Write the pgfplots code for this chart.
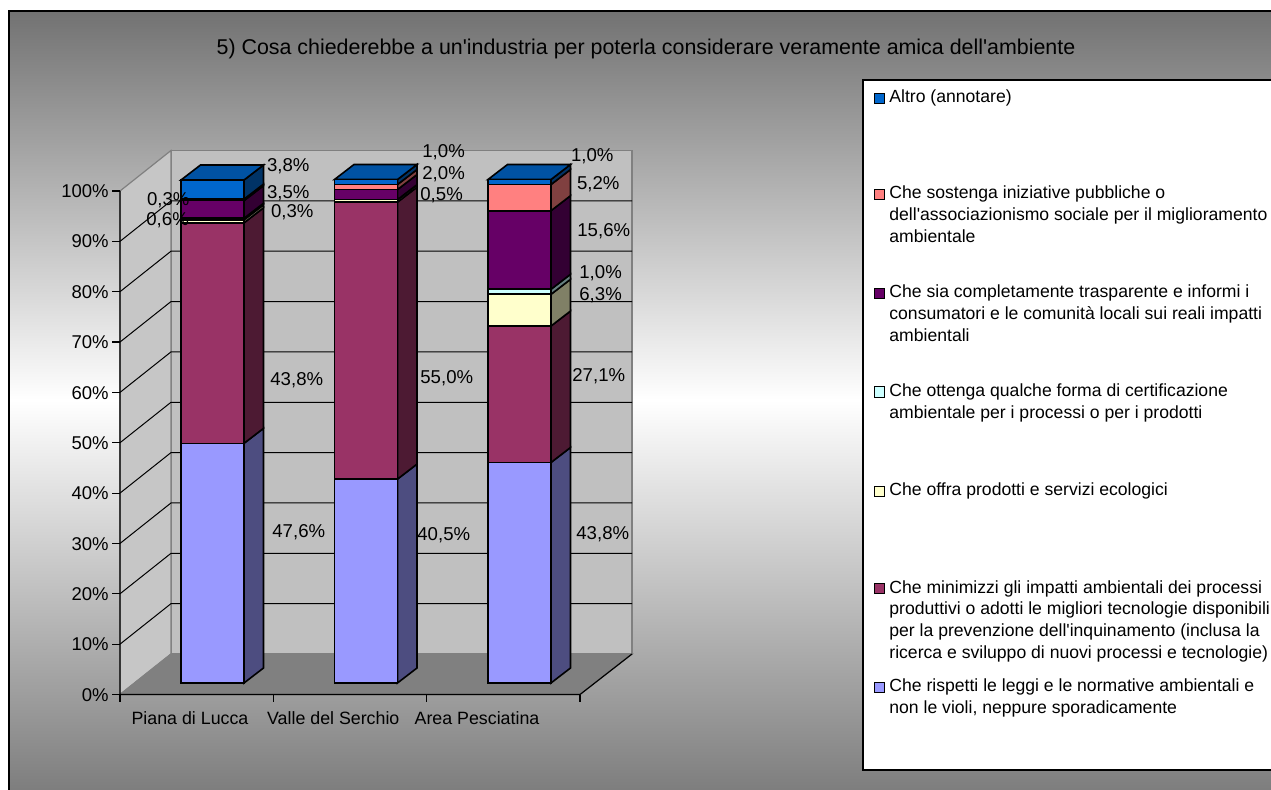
\documentclass[border=0pt]{standalone}
\usepackage{pgfplots}
\pgfplotsset{compat=1.18}
\usepackage{fontspec}
\setmainfont{Liberation Sans}

\definecolor{cAltro}{HTML}{0066CC}
\definecolor{cAltroS}{HTML}{003366}
\definecolor{cAltroT}{HTML}{0052A3}
\definecolor{cSost}{HTML}{FF8080}
\definecolor{cSostS}{HTML}{804040}
\definecolor{cTrasp}{HTML}{660066}
\definecolor{cTraspS}{HTML}{330033}
\definecolor{cCert}{HTML}{CCFFFF}
\definecolor{cCertS}{HTML}{668080}
\definecolor{cOffra}{HTML}{FFFFCC}
\definecolor{cOffraS}{HTML}{808066}
\definecolor{cMin}{HTML}{993366}
\definecolor{cMinS}{HTML}{4D1A33}
\definecolor{cRisp}{HTML}{9999FF}
\definecolor{cRispS}{HTML}{4D4D80}
\definecolor{gTop}{HTML}{727272}
\definecolor{gBot}{HTML}{7E7E7E}
\definecolor{wallBack}{HTML}{C0C0C0}
\definecolor{wallLeft}{HTML}{C6C6C6}
\definecolor{floorC}{HTML}{808080}
\definecolor{edgeC}{HTML}{808080}

\newcommand\ap{\textquotesingle}
\newcommand\lblfont{\fontsize{9.3pt}{11pt}\selectfont}
\newcommand\tickfont{\fontsize{9.25pt}{11pt}\selectfont}
\newcommand\catfont{\fontsize{8.9pt}{11pt}\selectfont}
\newcommand\legfont{\fontsize{8.8pt}{11pt}\selectfont}
\newcommand\titfont{\fontsize{10.7pt}{12pt}\selectfont}

\tikzset{px/.style={x=0.5pt,y=-0.5pt,yshift=394.5pt}}
\pgfplotsset{overlay axis/.style={at={(0,0)},anchor=south west,scale only axis,
  width=635.5pt,height=394.5pt,xmin=0,xmax=1271,ymin=-21.053,ymax=135.65,
  hide axis,clip=false}}

% side face of a stacked segment: x of front right edge, bottom, top, colour
\newcommand\sideface[4]{%
  \pgfmathsetmacro\ya{#2+2.979}%
  \pgfmathsetmacro\yb{#3+2.979}%
  \pgfmathsetmacro\xb{#1+19.5}%
  \edef\tmp{\noexpand\addplot[fill=#4,draw=black,line width=0.8pt,mark=none]
    coordinates {(#1,#2) (\xb,\ya) (\xb,\yb) (#1,#3)} -- cycle;}\tmp}
% top face: x left, x right, top value, colour
\newcommand\topface[4]{%
  \pgfmathsetmacro\ya{#3+2.979}%
  \pgfmathsetmacro\xa{#1+19.5}%
  \pgfmathsetmacro\xb{#2+19.5}%
  \edef\tmp{\noexpand\addplot[fill=#4,draw=black,line width=0.8pt,mark=none]
    coordinates {(#1,#3) (#2,#3) (\xb,\ya) (\xa,\ya)} -- cycle;}\tmp}

\newcommand\dl[3]{\node[anchor=base west,inner sep=0,font=\lblfont] at (#1,{#2+6.7}) {#3};}
\newcommand\legline[2]{\node[anchor=base west,inner sep=0,font=\legfont] at (889,{#1+6.3}) {#2};}
\newcommand\legbox[2]{\filldraw[fill=#2,draw=black,line width=0.5pt] (874,{#1-4}) rectangle (884,{#1+6});}

\begin{document}
\begin{tikzpicture}
\path[use as bounding box] (0,0) rectangle (635.5pt,394.5pt);
\clip (0,0) rectangle (635.5pt,394.5pt);

\begin{scope}[px]
  \fill[white] (0,0) rectangle (1271,789);
  \shade[top color=gTop, bottom color=gBot, middle color=white] (9,11) rectangle (1271,789);
  \draw[line width=1pt] (9,790) -- (9,11) -- (1272,11);
  % title
  \node[anchor=base,inner sep=0,font=\titfont] at (646,54.7)
    {5) Cosa chiederebbe a un\ap industria per poterla considerare veramente amica dell\ap ambiente};
  % walls and floor
  \filldraw[fill=wallBack,draw=edgeC,line width=0.6pt] (171,150.5) rectangle (632,654);
  \filldraw[fill=wallLeft,draw=edgeC,line width=0.6pt] (120,191) -- (171,150.5) -- (171,654) -- (120,694.5) -- cycle;
  \filldraw[fill=floorC,draw=edgeC,line width=0.6pt] (120,694.5) -- (580,694.5) -- (632,654) -- (171,654) -- cycle;
  % gridlines
  \foreach \k in {1,...,9}
    \draw[black,line width=0.5pt] (120,{694.5-\k*50.35}) -- (171,{654-\k*50.35}) -- (632,{654-\k*50.35});
  % axis lines
  \draw[black,line width=0.6pt] (120,191) -- (120,694.5) -- (580,694.5) -- (632,654);
  \foreach \k/\lab in {0/0,1/10,2/20,3/30,4/40,5/50,6/60,7/70,8/80,9/90,10/100}{
    \draw[black,line width=0.6pt] (112,{694.5-\k*50.35}) -- (120,{694.5-\k*50.35});
    \node[anchor=base east,inner sep=0,font=\tickfont] at (109,{694.5-\k*50.35+6.6}) {\lab\%};
  }
  \foreach \x in {120,273.3,426.7,580}
    \draw[black,line width=0.6pt] (\x,694.5) -- (\x,701.5);
  \node[anchor=base,inner sep=0,font=\catfont] at (190,724.7) {Piana di Lucca};
  \node[anchor=base,inner sep=0,font=\catfont] at (333.3,724.7) {Valle del Serchio};
  \node[anchor=base,inner sep=0,font=\catfont] at (477,724.7) {Area Pesciatina};
  % legend
  \filldraw[fill=white,draw=black,line width=0.75pt] (1280,80) -- (863,80) -- (863,770) -- (1280,770);
  \legbox{97.7}{cAltro}
  \legline{96.7}{Altro (annotare)}
  \legbox{193.3}{cSost}
  \legline{192.3}{Che sostenga iniziative pubbliche o}
  \legline{214.3}{dell\ap associazionismo sociale per il miglioramento}
  \legline{236.3}{ambientale}
  \legbox{292.7}{cTrasp}
  \legline{291.7}{Che sia completamente trasparente e informi i}
  \legline{313.4}{consumatori e le comunità locali sui reali impatti}
  \legline{335.1}{ambientali}
  \legbox{391}{cCert}
  \legline{390}{Che ottenga qualche forma di certificazione}
  \legline{411.7}{ambientale per i processi o per i prodotti}
  \legbox{490}{cOffra}
  \legline{489}{Che offra prodotti e servizi ecologici}
  \legbox{587.7}{cMin}
  \legline{586.7}{Che minimizzi gli impatti ambientali dei processi}
  \legline{608.4}{produttivi o adotti le migliori tecnologie disponibili}
  \legline{630.1}{per la prevenzione dell\ap inquinamento (inclusa la}
  \legline{651.8}{ricerca e sviluppo di nuovi processi e tecnologie)}
  \legbox{686.5}{cRisp}
  \legline{685.5}{Che rispetti le leggi e le normative ambientali e}
  \legline{707.2}{non le violi, neppure sporadicamente}
\end{scope}

% side and top faces of the 3D bars
\begin{axis}[overlay axis]
  % Piana di Lucca
  \sideface{244}{0}{47.6}{cRispS}
  \sideface{244}{47.6}{91.4}{cMinS}
  \sideface{244}{91.4}{92.0}{cOffraS}
  \sideface{244}{92.0}{92.3}{cCertS}
  \sideface{244}{92.3}{95.8}{cTraspS}
  \sideface{244}{95.8}{96.1}{cSostS}
  \sideface{244}{96.1}{99.9}{cAltroS}
  \topface{181}{244}{99.9}{cAltroT}
  % Valle del Serchio
  \sideface{397.5}{0}{40.5}{cRispS}
  \sideface{397.5}{40.5}{95.5}{cMinS}
  \sideface{397.5}{95.5}{96.0}{cOffraS}
  \sideface{397.5}{96.0}{98.0}{cTraspS}
  \sideface{397.5}{98.0}{99.0}{cSostS}
  \sideface{397.5}{99.0}{100.0}{cAltroS}
  \topface{334.5}{397.5}{100.0}{cAltroT}
  % Area Pesciatina
  \sideface{551}{0}{43.8}{cRispS}
  \sideface{551}{43.8}{70.9}{cMinS}
  \sideface{551}{70.9}{77.2}{cOffraS}
  \sideface{551}{77.2}{78.2}{cCertS}
  \sideface{551}{78.2}{93.8}{cTraspS}
  \sideface{551}{93.8}{99.0}{cSostS}
  \sideface{551}{99.0}{100.0}{cAltroS}
  \topface{488}{551}{100.0}{cAltroT}
\end{axis}

% front faces: stacked bars
\begin{axis}[overlay axis, ybar stacked, bar width=63]
  \addplot[fill=cRisp,draw=black,line width=0.8pt] coordinates {(212.5,47.6) (366,40.5) (519.5,43.8)};
  \addplot[fill=cMin,draw=black,line width=0.8pt] coordinates {(212.5,43.8) (366,55.0) (519.5,27.1)};
  \addplot[fill=cOffra,draw=black,line width=0.8pt] coordinates {(212.5,0.6) (366,0.5) (519.5,6.3)};
  \addplot[fill=cCert,draw=black,line width=0.8pt] coordinates {(212.5,0.3) (366,0) (519.5,1.0)};
  \addplot[fill=cTrasp,draw=black,line width=0.8pt] coordinates {(212.5,3.5) (366,2.0) (519.5,15.6)};
  \addplot[fill=cSost,draw=black,line width=0.8pt] coordinates {(212.5,0.3) (366,1.0) (519.5,5.2)};
  \addplot[fill=cAltro,draw=black,line width=0.8pt] coordinates {(212.5,3.8) (366,1.0) (519.5,1.0)};
\end{axis}

% data labels
\begin{scope}[px]
  \dl{272}{531}{47,6\%}
  \dl{270}{378.5}{43,8\%}
  \dl{266.7}{165}{3,8\%}
  \dl{266.7}{191.7}{3,5\%}
  \dl{270.7}{211}{0,3\%}
  \dl{146.7}{199.3}{0,3\%}
  \dl{146}{219.3}{0,6\%}
  \dl{422}{151}{1,0\%}
  \dl{422}{173}{2,0\%}
  \dl{420}{194}{0,5\%}
  \dl{420}{376.5}{55,0\%}
  \dl{417}{534}{40,5\%}
  \dl{570.7}{155}{1,0\%}
  \dl{576.7}{183}{5,2\%}
  \dl{577}{230}{15,6\%}
  \dl{579}{271.7}{1,0\%}
  \dl{579}{294}{6,3\%}
  \dl{572}{375}{27,1\%}
  \dl{576}{532.5}{43,8\%}
\end{scope}
\end{tikzpicture}
\end{document}
